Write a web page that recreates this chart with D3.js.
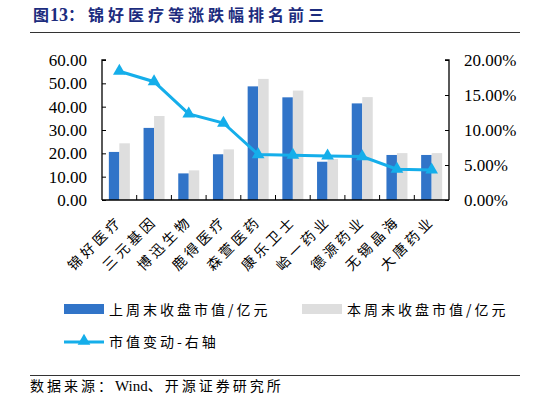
<!DOCTYPE html>
<html lang="zh">
<head>
<meta charset="UTF-8">
<title>锦好医疗等涨跌幅排名前三</title>
<script src="https://d3js.org/d3.v7.min.js"></script>
<style>
  html, body { margin: 0; padding: 0; background: #fff; }
  svg { display: block; }
</style>
</head>
<body>
<div id="chart"></div>
<script>
const categories = ["锦好医疗", "三元基因", "博迅生物", "鹿得医疗", "森萱医药", "康乐卫士", "峆一药业", "德源药业", "无锡晶海", "大唐药业"];
const lastWeek = [20.6, 30.9, 11.4, 19.6, 48.7, 44.0, 16.4, 41.4, 19.3, 19.3];
const thisWeek = [24.3, 36.0, 12.7, 21.7, 51.9, 46.9, 17.6, 44.1, 20.1, 20.1];
const change = [18.4, 16.9, 12.3, 11.0, 6.5, 6.4, 6.3, 6.2, 4.4, 4.3];
const leftTicks = [0, 10, 20, 30, 40, 50, 60];
const rightTicks = [0, 5, 10, 15, 20];
const seriesNames = ["上周末收盘市值/亿元", "本周末收盘市值/亿元", "市值变动-右轴"];

const W = 546, H = 405;
const blue = "#3174c8", grey = "#dedede", cyan = "#15aeea";
const serif = "'Liberation Serif', 'DejaVu Serif', serif";
const cjk = "'Noto Sans CJK SC', 'Noto Sans', sans-serif";

const svg = d3.select("#chart").append("svg")
    .attr("width", W)
    .attr("height", H);

// title
const title = svg.append("text")
    .attr("x", 33)
    .attr("y", 21)
    .attr("font-size", 16)
    .attr("font-weight", "bold")
    .style("font-family", cjk)
    .style("fill", "#1c2c7e");
title.append("tspan").attr("letter-spacing", 1).text("图");
title.append("tspan").style("font-family", serif).attr("font-size", 18).text("13");
title.append("tspan").attr("letter-spacing", 4).text("：锦好医疗等涨跌幅排名前三");

svg.append("line")
    .attr("x1", 30).attr("x2", 520)
    .attr("y1", 32.5).attr("y2", 32.5)
    .attr("stroke", "#333").attr("stroke-width", 1.2);

const pLeft = 102, pRight = 449, pTop = 60, pBottom = 200;

const x = d3.scaleBand()
    .domain(categories)
    .range([pLeft, pRight]);

const yL = d3.scaleLinear().domain([0, 60]).range([pBottom, pTop]);
const yR = d3.scaleLinear().domain([0, 20]).range([pBottom, pTop]);

const barW = 10.5;

// bars
const g = svg.append("g");
g.selectAll(".b1")
    .data(categories)
    .enter().append("rect")
    .attr("x", (d) => x(d) + x.bandwidth() / 2 - barW)
    .attr("y", (d, i) => yL(lastWeek[i]))
    .attr("width", barW)
    .attr("height", (d, i) => pBottom - yL(lastWeek[i]))
    .attr("fill", blue);

g.selectAll(".b2")
    .data(categories)
    .enter().append("rect")
    .attr("x", (d) => x(d) + x.bandwidth() / 2)
    .attr("y", (d, i) => yL(thisWeek[i]))
    .attr("width", barW)
    .attr("height", (d, i) => pBottom - yL(thisWeek[i]))
    .attr("fill", grey);

// left axis
const axL = svg.append("g")
    .attr("transform", `translate(${pLeft},0)`)
    .call(d3.axisRight(yL).tickValues(leftTicks).tickSize(4).tickFormat(""));
axL.select(".domain").attr("d", `M4,${pTop}H0V${pBottom}`);
axL.selectAll("line").attr("stroke", "#000");
axL.select(".domain").attr("stroke", "#000").attr("stroke-width", 1.3);

svg.append("g").selectAll("text")
    .data(leftTicks)
    .enter().append("text")
    .style("font-family", serif)
    .attr("font-size", 17)
    .attr("x", 87)
    .attr("y", (d) => yL(d))
    .attr("dy", "0.35em")
    .attr("text-anchor", "end")
    .text((d) => d3.format(".2f")(d));

// right axis
const axR = svg.append("g")
    .attr("transform", `translate(${pRight},0)`)
    .call(d3.axisLeft(yR).tickValues(rightTicks).tickSize(4).tickFormat(""));
axR.select(".domain").attr("d", `M-4,${pTop}H0V${pBottom}`);
axR.selectAll("line").attr("stroke", "#000");
axR.select(".domain").attr("stroke", "#000").attr("stroke-width", 1.3);

svg.append("g").selectAll("text")
    .data(rightTicks)
    .enter().append("text")
    .style("font-family", serif)
    .attr("font-size", 17)
    .attr("x", 464)
    .attr("y", (d) => yR(d))
    .attr("dy", "0.35em")
    .text((d) => d3.format(".2f")(d) + "%");

// bottom axis with category boundary ticks
svg.append("line")
    .attr("x1", pLeft).attr("x2", pRight)
    .attr("y1", pBottom).attr("y2", pBottom)
    .attr("stroke", "#000").attr("stroke-width", 1.3);

svg.append("g").selectAll("line")
    .data(categories.slice(1))
    .enter().append("line")
    .attr("x1", (d) => x(d)).attr("x2", (d) => x(d))
    .attr("y1", pBottom).attr("y2", pBottom - 5)
    .attr("stroke", "#000");

svg.append("g").selectAll("text")
    .data(categories)
    .enter().append("text")
    .style("font-family", cjk)
    .attr("font-size", 14)
    .attr("letter-spacing", 3.5)
    .attr("text-anchor", "end")
    .attr("transform", (d) => `translate(${x(d) + x.bandwidth() / 2 + 4},${pBottom + 22}) rotate(-45)`)
    .text((d) => d);

// line series
const cx = (d) => x(d) + x.bandwidth() / 2;
const line = d3.line()
    .x((d, i) => cx(categories[i]))
    .y((d) => yR(d));

svg.append("path")
    .datum(change)
    .attr("d", line)
    .attr("fill", "none")
    .attr("stroke", cyan)
    .attr("stroke-width", 3);

const tri = d3.symbol().type(d3.symbolTriangle).size(70);
svg.append("g").selectAll("path")
    .data(change)
    .enter().append("path")
    .attr("d", tri)
    .attr("transform", (d, i) => `translate(${cx(categories[i])},${yR(d)})`)
    .attr("fill", cyan);

// legend
const lg = svg.append("g");
lg.append("rect").attr("x", 64).attr("y", 304).attr("width", 40).attr("height", 10).attr("fill", blue);
lg.append("rect").attr("x", 302).attr("y", 304).attr("width", 40).attr("height", 10).attr("fill", grey);
lg.append("line").attr("x1", 64).attr("x2", 104).attr("y1", 342).attr("y2", 342)
    .attr("stroke", cyan).attr("stroke-width", 3);
lg.append("path").attr("d", tri).attr("transform", "translate(84,341)").attr("fill", cyan);

const legPos = [[109, 315], [347, 315], [109, 347]];
seriesNames.forEach((name, i) => {
    lg.append("text")
        .style("font-family", cjk)
        .attr("font-size", 14)
        .attr("letter-spacing", 3)
        .attr("x", legPos[i][0])
        .attr("y", legPos[i][1])
        .text(name);
});

// source
svg.append("line")
    .attr("x1", 30).attr("x2", 520)
    .attr("y1", 375.5).attr("y2", 375.5)
    .attr("stroke", "#333").attr("stroke-width", 1.2);

const src = svg.append("text")
    .attr("x", 30)
    .attr("y", 391)
    .attr("font-size", 14)
    .style("font-family", cjk);
src.append("tspan").attr("letter-spacing", 3).text("数据来源：");
src.append("tspan").style("font-family", serif).attr("font-size", 15).text("Wind");
src.append("tspan").attr("letter-spacing", 3).text("、开源证券研究所");
</script>
</body>
</html>
